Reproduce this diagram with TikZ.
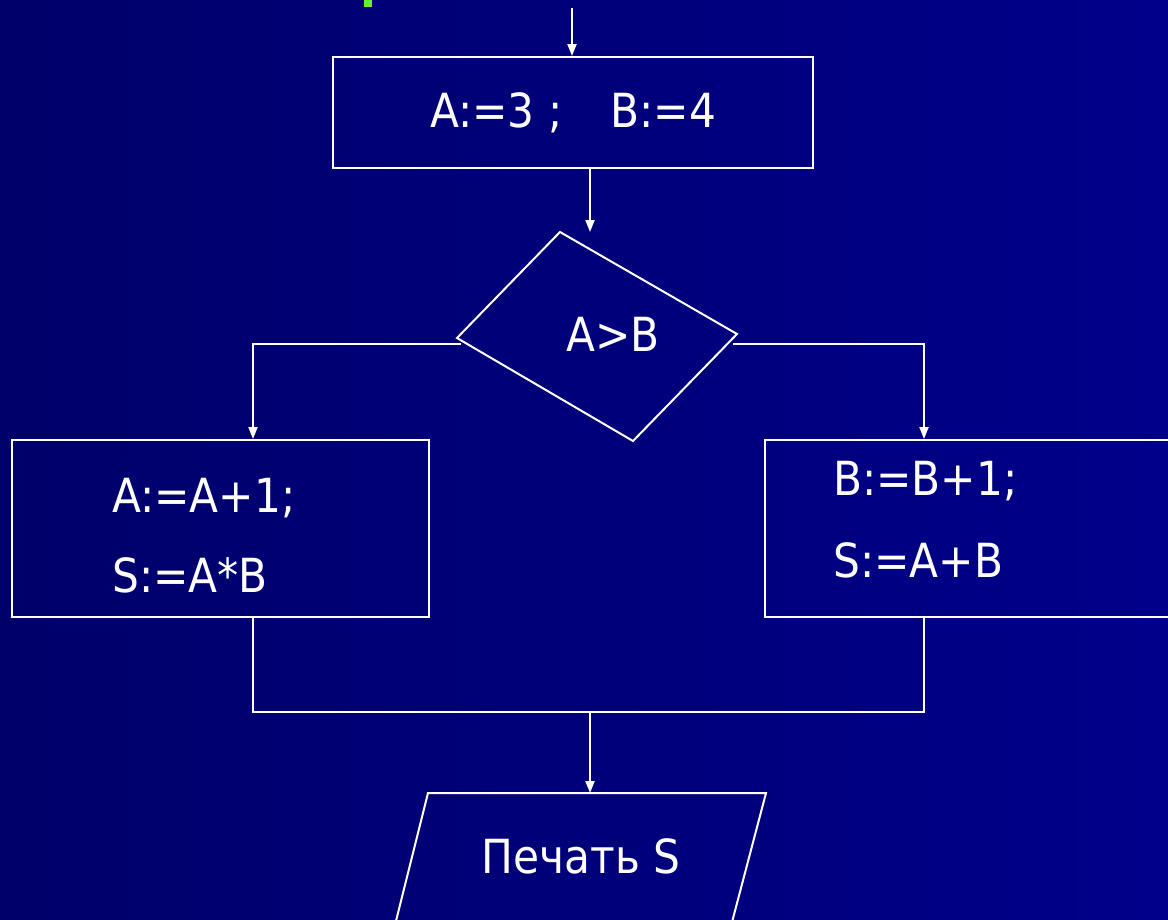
\documentclass[tikz,border=0pt]{standalone}
\usepackage{fontspec}
\setmainfont{DejaVu Sans Condensed}
\usetikzlibrary{arrows.meta}
\begin{document}
\begin{tikzpicture}[x=1pt,y=-1pt,
  ln/.style={draw=white, line width=2pt},
  block/.style={ln, rectangle, inner sep=0pt, text=white, font=\fontsize{47}{56}\selectfont},
  arr/.style={ln, -{Triangle[length=12pt,width=9pt]}},
  txt/.style={text=white, anchor=base west, inner sep=0pt, font=\fontsize{47}{56}\selectfont}]
\definecolor{bg left}{RGB}{0,0,106}
\definecolor{bg right}{RGB}{0,0,138}
\definecolor{mark green}{RGB}{100,240,40}
\def\condition{(560,232) -- (737,334) -- (633,441) -- (457,338) -- cycle}
\def\printbox{(428,793) -- (766,793) -- (726,945) -- (390,945) -- cycle}

\clip (0,0) rectangle (1168,919);
\shade[left color=bg left, right color=bg right] (0,0) rectangle (1168,919);
\fill[mark green] (364,0) rectangle (372,7);

% assignment blocks
\node[block, minimum width=480pt, minimum height=111pt] (init) at (573,112.5) {A:=3 ;\hspace{48pt}B:=4};
\node[block, minimum width=417pt, minimum height=177pt] (left) at (220.5,528.5) {};
\node[block, minimum width=435pt, minimum height=177pt] (right) at (982.5,528.5) {};
\node[txt] (l1) at (112,512) {A:=A+1;};
\node[txt] (l2) at (112,592) {S:=A*B};
\node[txt] (r1) at (833,495) {B:=B+1;};
\node[txt] (r2) at (833,577) {S:=A+B};

% decision and output
\draw[ln] \condition;
\node[text=white, font=\fontsize{47}{56}\selectfont] (cond) at (613,334) {A>B};
\draw[ln] \printbox;
\node[text=white, font=\fontsize{47}{56}\selectfont] (out) at (581,856) {Печать S};

\coordinate (start) at (572,8);
\coordinate (dtop) at (590,232);
\coordinate (dleft) at (461,344);
\coordinate (dright) at (733,344);
\coordinate (join) at (590,712);
\coordinate (otop) at (590,793);

\draw[arr] (start) -- (init.north -| start);
\draw[arr] (init.south -| dtop) -- (dtop);
\draw[arr] (dleft) -| (left.north -| 253,0);
\draw[arr] (dright) -| (right.north -| 924,0);
\draw[ln] (left.south -| 253,0) |- (join) -| (right.south -| 924,0);
\draw[arr] (join) -- (otop);
\end{tikzpicture}
\end{document}
